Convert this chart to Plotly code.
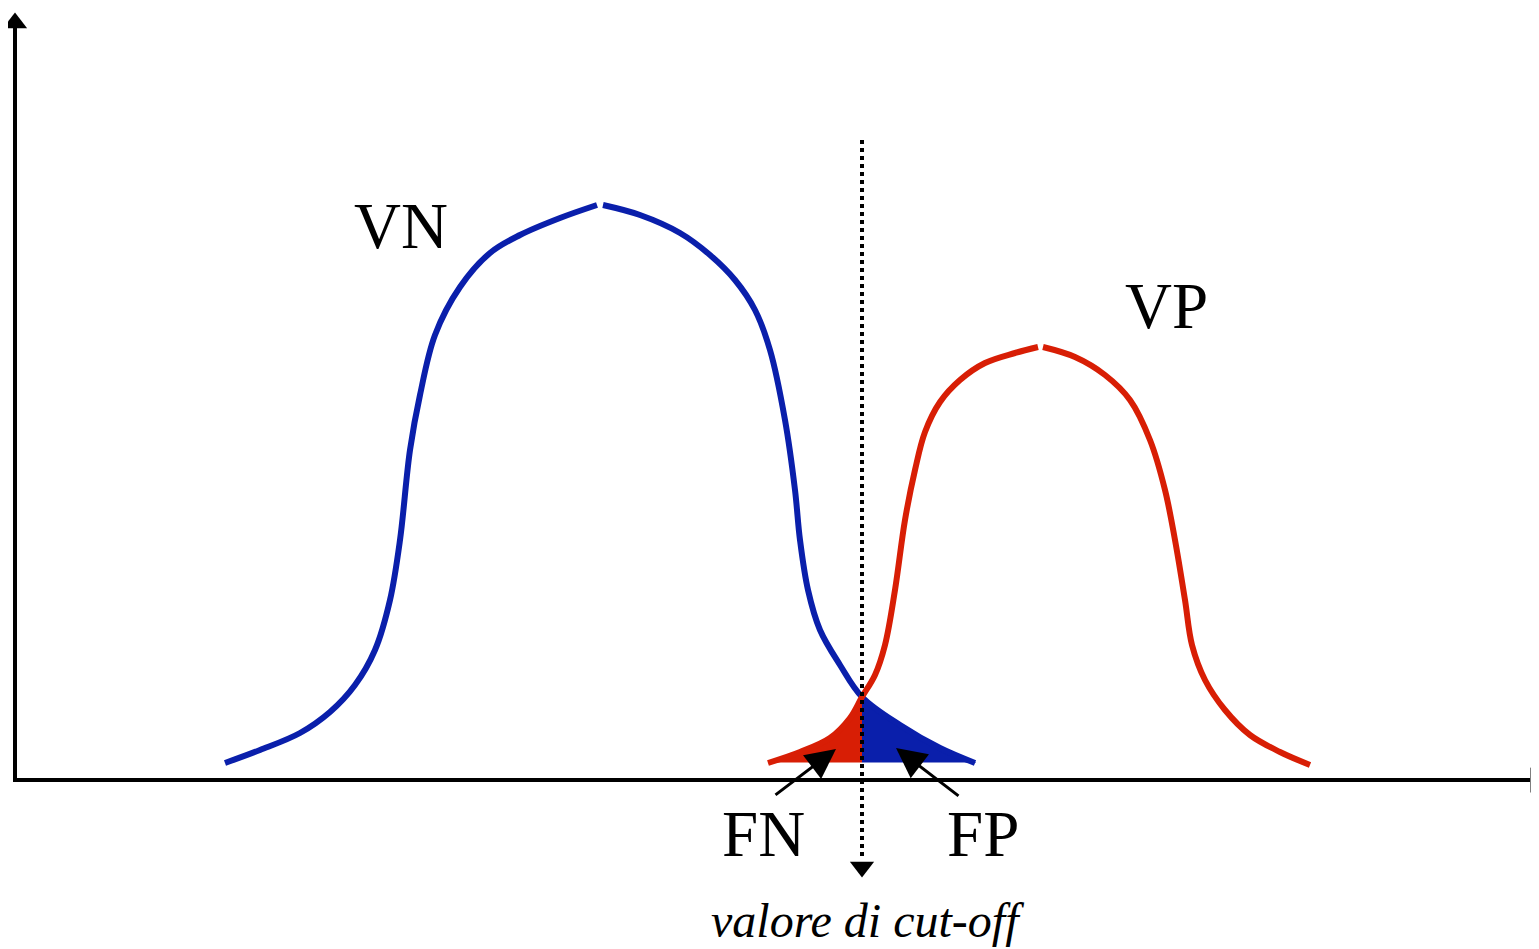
import plotly.graph_objects as go

W, H = 1539, 949
PAGE_OFF = 8  # default body margin of the html page

# Curve samples (diagram coordinates, y grows downward)
vn_left_x = [225, 260, 300, 330, 355, 375, 390, 400, 410, 420, 435, 460, 490, 520, 560, 597]
vn_left_y = [763, 750, 733, 712, 685, 650, 600, 540, 450, 395, 335, 287, 253, 235, 218, 205]
vn_right_x = [603, 640, 680, 710, 735, 755, 770, 785, 795, 800, 808, 820, 840, 862, 900, 940, 975]
vn_right_y = [205, 215, 233, 255, 280, 310, 350, 420, 490, 540, 590, 630, 665, 697, 725, 748, 763]

vp_left_x = [768, 800, 830, 850, 862, 875, 885, 895, 905, 915, 925, 940, 960, 985, 1015, 1038]
vp_left_y = [763, 752, 738, 718, 697, 675, 645, 590, 520, 470, 432, 402, 380, 363, 353, 347]
vp_right_x = [1043, 1075, 1105, 1130, 1150, 1165, 1175, 1185, 1192, 1205, 1225, 1250, 1280, 1310]
vp_right_y = [347, 357, 375, 400, 440, 490, 540, 600, 645, 680, 710, 735, 752, 765]

cutoff_x = 862
baseline_y = 762
axis_y = 780
axis_x = 15

labels = ["VN", "VP", "FN", "FP"]
label_x = [401, 1166, 763, 983]
label_y = [226, 306, 834, 834]

BLUE = "#0a1fab"
RED = "#d81e05"

fig = go.Figure()

# FN fill (red curve left of cut-off)
fn_x = [x for x in vp_left_x if x <= cutoff_x]
fn_y = [y for x, y in zip(vp_left_x, vp_left_y) if x <= cutoff_x]
fig.add_trace(go.Scatter(x=fn_x + [cutoff_x, fn_x[0]], y=fn_y + [baseline_y, baseline_y],
                         fill="toself", fillcolor=RED, mode="lines",
                         line=dict(color=RED, width=1), hoverinfo="skip"))
# FP fill (blue curve right of cut-off)
fp_x = [x for x in vn_right_x if x >= cutoff_x]
fp_y = [y for x, y in zip(vn_right_x, vn_right_y) if x >= cutoff_x]
fig.add_trace(go.Scatter(x=fp_x + [fp_x[-1], cutoff_x], y=fp_y + [baseline_y, baseline_y],
                         fill="toself", fillcolor=BLUE, mode="lines",
                         line=dict(color=BLUE, width=1), hoverinfo="skip"))

for xs, ys, c in [(vn_left_x, vn_left_y, BLUE), (vn_right_x, vn_right_y, BLUE),
                  (vp_left_x, vp_left_y, RED), (vp_right_x, vp_right_y, RED)]:
    fig.add_trace(go.Scatter(x=xs, y=ys, mode="lines",
                             line=dict(color=c, width=6, shape="spline", smoothing=1.0),
                             hoverinfo="skip"))

# axes lines
fig.add_shape(type="line", x0=axis_x, y0=axis_y, x1=axis_x, y1=26, line=dict(color="black", width=4))
fig.add_shape(type="line", x0=axis_x - 2, y0=axis_y, x1=1530, y1=axis_y, line=dict(color="black", width=4))
# cut-off dotted line
fig.add_shape(type="line", x0=cutoff_x, y0=140, x1=cutoff_x, y1=858,
              line=dict(color="black", width=4, dash="4px,4px"))

# arrow heads
fig.add_trace(go.Scatter(x=[axis_x], y=[23], mode="markers", cliponaxis=False,
                         marker=dict(symbol="triangle-up", size=21, color="black"), hoverinfo="skip"))
fig.add_trace(go.Scatter(x=[1536], y=[axis_y], mode="markers", cliponaxis=False,
                         marker=dict(symbol="triangle-right", size=22, color="black"), hoverinfo="skip"))
fig.add_trace(go.Scatter(x=[cutoff_x], y=[867], mode="markers", cliponaxis=False,
                         marker=dict(symbol="triangle-down", size=21, color="black"), hoverinfo="skip"))

# labels
for t, x, y in zip(labels, label_x, label_y):
    fig.add_annotation(x=x, y=y, text=t, showarrow=False,
                       font=dict(family="Liberation Serif", size=65, color="black"))
fig.add_annotation(x=867, y=920, text="<i>valore di cut-off</i>", showarrow=False,
                   font=dict(family="Liberation Serif", size=48, color="black"))

# pointer arrows for FN / FP
fig.add_annotation(x=836, y=749, ax=774, ay=796, xref="x", yref="y", axref="x", ayref="y",
                   showarrow=True, arrowhead=2, arrowsize=2, arrowwidth=3, arrowcolor="black", text="")
fig.add_annotation(x=896, y=748, ax=960, ay=797, xref="x", yref="y", axref="x", ayref="y",
                   showarrow=True, arrowhead=2, arrowsize=2, arrowwidth=3, arrowcolor="black", text="")

fig.update_layout(width=W, height=H, margin=dict(l=0, r=0, t=0, b=0),
                  paper_bgcolor="white", plot_bgcolor="white", showlegend=False,
                  xaxis=dict(range=[PAGE_OFF, W + PAGE_OFF], visible=False, fixedrange=True),
                  yaxis=dict(range=[H + PAGE_OFF, PAGE_OFF], visible=False, fixedrange=True))

fig.write_html("out.html")
